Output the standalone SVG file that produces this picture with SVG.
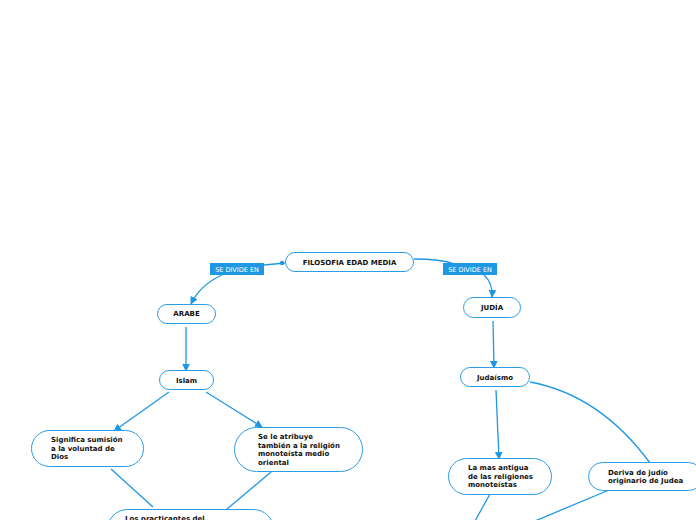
<svg xmlns="http://www.w3.org/2000/svg" width="696" height="520" viewBox="0 0 696 520">
<defs>
<style>
.n rect{fill:#fff;stroke:#2a9de6;stroke-width:1}
.n text,.t{font-family:"DejaVu Sans",Verdana,sans-serif;font-size:7px;font-weight:bold;fill:#111}
.c{fill:none;stroke:#1f98e3;stroke-width:1.3}
.lb rect{fill:#1f98e3}
.lb text{font-family:"DejaVu Sans",Verdana,sans-serif;font-size:6.5px;fill:#fff}
</style>
<marker id="a" viewBox="0 0 10 10" refX="9" refY="5" markerWidth="6" markerHeight="6" orient="auto"><path d="M0,0L10,5L0,10z" fill="#1f98e3"/></marker>
</defs>
<rect width="696" height="520" fill="#fff"/>
<g id="connectors">
<path class="c" d="M285,263 L264,265"/>
<circle cx="282" cy="263" r="2.2" fill="#1f98e3"/>
<path class="c" d="M222,275 Q200,285 191,304" marker-end="url(#a)"/>
<path class="c" d="M414,259 Q440,259 455,264"/>
<path class="c" d="M484,275 Q493,283 492,297" marker-end="url(#a)"/>
<path class="c" d="M186,327 L186,371" marker-end="url(#a)"/>
<path class="c" d="M493,321 L494,368" marker-end="url(#a)"/>
<path class="c" d="M169,392 L114,431" marker-end="url(#a)"/>
<path class="c" d="M206,392 L262,427" marker-end="url(#a)"/>
<path class="c" d="M111,469 L153,507"/>
<path class="c" d="M271,472 L227,509"/>
<path class="c" d="M496,390 L499,459" marker-end="url(#a)"/>
<path class="c" d="M530,382 Q600,395 650,463"/>
<path class="c" d="M490,494 L475,521"/>
<path class="c" d="M609,490 L535,521"/>
</g>
<g id="lbl1" class="lb"><rect x="210" y="263" width="54" height="12"/><text x="237" y="271.5" text-anchor="middle">SE DIVIDE EN</text></g>
<g id="lbl2" class="lb"><rect x="443" y="263" width="54" height="12"/><text x="470" y="271.5" text-anchor="middle">SE DIVIDE EN</text></g>
<g id="root" class="n"><rect x="285.5" y="252.5" width="128" height="19" rx="9.5"/><text x="349.5" y="264.5" text-anchor="middle">FILOSOFIA EDAD MEDIA</text></g>
<g id="arabe" class="n"><rect x="157.5" y="304.5" width="58" height="19" rx="9.5"/><text x="186.5" y="316" text-anchor="middle">ARABE</text></g>
<g id="islam" class="n"><rect x="159.5" y="370.5" width="54" height="19" rx="9.5"/><text x="186.5" y="382.5" text-anchor="middle">Islam</text></g>
<g id="judia" class="n"><rect x="463.5" y="297.5" width="57" height="20" rx="10"/><text x="492" y="310" text-anchor="middle">JUDÍA</text></g>
<g id="judaismo" class="n"><rect x="460.5" y="367.5" width="69" height="19" rx="9.5"/><text x="495" y="379.5" text-anchor="middle">Judaísmo</text></g>
<g id="significa" class="n"><rect x="31.5" y="430.5" width="112" height="36" rx="18"/><text x="51" y="442">Significa sumisión</text><text x="51" y="450.5">a la voluntad de</text><text x="51" y="459">Dios</text></g>
<g id="atribuye" class="n"><rect x="234.5" y="427.5" width="128" height="44" rx="22"/><text x="258" y="439">Se le atribuye</text><text x="258" y="447.5">también a la religión</text><text x="258" y="456">monoteísta medio</text><text x="258" y="465">oriental</text></g>
<g id="practicantes" class="n"><rect x="107.5" y="509.5" width="166" height="40" rx="20"/><text x="125" y="521">Los practicantes del</text></g>
<g id="antigua" class="n"><rect x="448.5" y="458.5" width="103" height="36" rx="18"/><text x="468" y="470">La mas antigua</text><text x="468" y="478.5">de las religiones</text><text x="468" y="487">monoteístas</text></g>
<g id="deriva" class="n"><rect x="588.5" y="462.5" width="114" height="28" rx="14"/><text x="608" y="474.5">Deriva de judío</text><text x="608" y="483">originario de Judea</text></g>
</svg>
